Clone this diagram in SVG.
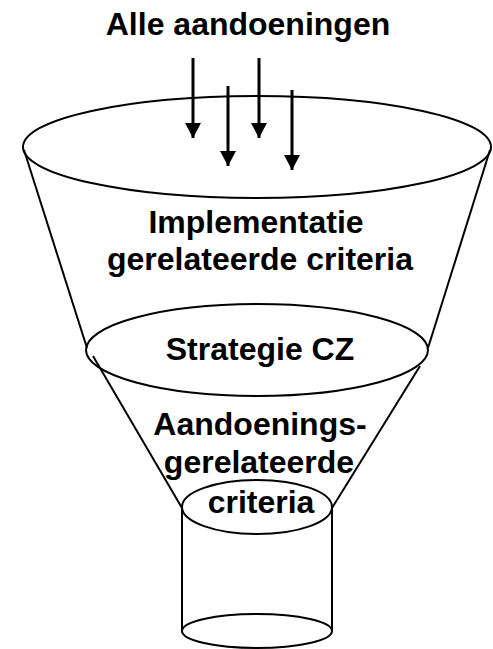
<svg xmlns="http://www.w3.org/2000/svg" width="493" height="649" viewBox="0 0 493 649">
<style>
.s{fill:none;stroke:#000;stroke-width:2}
.t{font-family:"Liberation Sans",Arial,sans-serif;font-weight:bold;font-size:32px;fill:#000;text-anchor:middle}
.a{stroke:#000;stroke-width:3;fill:none}
</style>
<defs>
<marker id="ah" markerUnits="userSpaceOnUse" markerWidth="16" markerHeight="16" refX="15" refY="8" orient="auto" viewBox="0 0 16 16">
<path d="M0,0 L15,8 L0,16 Z" fill="#000"/>
</marker>
</defs>
<rect width="493" height="649" fill="#fff"/>
<g id="funnel">
<ellipse class="s" cx="257" cy="147" rx="234" ry="51"/>
<line class="s" x1="24" y1="150" x2="87" y2="348"/>
<line class="s" x1="490" y1="150" x2="428" y2="348"/>
</g>
<g id="strategie">
<ellipse class="s" cx="257" cy="350" rx="171" ry="46"/>
<line class="s" x1="93" y1="356" x2="182" y2="508"/>
<line class="s" x1="420" y1="366" x2="332" y2="508"/>
</g>
<g id="cylinder">
<ellipse class="s" cx="257" cy="507" rx="75" ry="27"/>
<line class="s" x1="182" y1="507" x2="182" y2="631"/>
<line class="s" x1="332" y1="507" x2="332" y2="631"/>
<ellipse class="s" cx="257" cy="631" rx="75" ry="17"/>
</g>
<g id="connectors">
<line class="a" x1="193" y1="58" x2="193" y2="138" marker-end="url(#ah)"/>
<line class="a" x1="228" y1="86" x2="228" y2="166" marker-end="url(#ah)"/>
<line class="a" x1="259" y1="58" x2="259" y2="138" marker-end="url(#ah)"/>
<line class="a" x1="292" y1="90" x2="292" y2="170" marker-end="url(#ah)"/>
</g>
<g id="labels">
<text class="t" x="248" y="35">Alle aandoeningen</text>
<text class="t" x="256" y="233">Implementatie</text>
<text class="t" x="260" y="270">gerelateerde criteria</text>
<text class="t" x="260" y="360">Strategie CZ</text>
<text class="t" x="260" y="435">Aandoenings-</text>
<text class="t" x="259" y="473">gerelateerde</text>
<text class="t" x="261" y="513">criteria</text>
</g>
</svg>
